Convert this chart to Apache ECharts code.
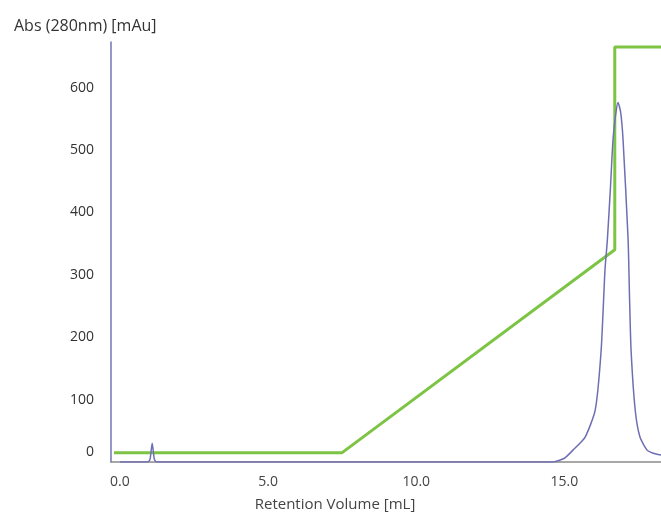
<!DOCTYPE html>
<html><head><meta charset="utf-8">
<script src="https://cdn.jsdelivr.net/npm/echarts@6/dist/echarts.min.js"></script>
<style>html,body{margin:0;padding:0;background:#fff}#c{width:661px;height:516px}</style>
</head><body><div id="c"></div>
<script>
// Absorbance trace (blue): [retention volume mL, mAu]
const absTrace = [
  [0.0, 0], [0.95, 0], [1.02, 5], [1.09, 30], [1.16, 5], [1.23, 0],
  [14.62, 0], [15.0, 6], [15.29, 19], [15.70, 40], [16.04, 83], [16.24, 179],
  [16.37, 308], [16.45, 356], [16.55, 436], [16.64, 516], [16.74, 560], [16.81, 576],
  [16.90, 560], [16.98, 516], [17.15, 356], [17.20, 260], [17.25, 179], [17.39, 83],
  [17.55, 40], [17.79, 19], [18.0, 14], [18.26, 11]
];
// Gradient trace (green)
const gradTrace = [
  [-0.2, 15], [7.50, 15], [16.70, 340], [16.70, 665], [18.26, 665]
];
const yTicks = [0, 100, 200, 300, 400, 500, 600];
const xTicks = [0, 5, 10, 15];

const chart = echarts.init(document.getElementById('c'));
const font = '"Open Sans", "Noto Sans", sans-serif';
chart.setOption({
  backgroundColor: '#fff',
  animation: false,
  grid: { left: 111, right: 0, top: 42, bottom: 54 },
  title: { text: 'Abs (280nm) [mAu]', left: 9, top: 13,
    textStyle: { fontFamily: font, fontSize: 16, fontWeight: 'normal', color: '#333' } },
  graphic: [{ type: 'text', x: 335, y: 505,
    style: { text: 'Retention Volume [mL]', textAlign: 'center', textVerticalAlign: 'middle',
      font: '15px ' + font, fill: '#444' } }],
  xAxis: {
    type: 'value', min: -0.3, max: 18.26,
    axisLine: { onZero: false, lineStyle: { color: '#8a8a8a', width: 1.5 } },
    axisTick: { show: false },
    splitLine: { show: false },
    axisLabel: { fontFamily: font, fontSize: 14, color: '#444', margin: 13,
      customValues: xTicks, formatter: v => Number(v).toFixed(1) }
  },
  yAxis: {
    type: 'value', min: 0, max: 673,
    axisLine: { show: true, onZero: false, lineStyle: { color: '#7474b4', width: 1.5 } },
    axisTick: { show: false },
    splitLine: { show: false },
    axisLabel: { fontFamily: font, fontSize: 14, color: '#333', margin: 17,
      customValues: yTicks,
      formatter: v => v === 0 ? '{z|0}' : String(v),
      rich: { z: { fontFamily: font, fontSize: 14, color: '#333', padding: [0, 0, 20, 0] } } }
  },
  series: [
    { type: 'line', data: gradTrace, showSymbol: false, symbol: 'none',
      lineStyle: { color: '#7dc444', width: 3 }, z: 2 },
    { type: 'line', data: absTrace, showSymbol: false, symbol: 'none', smooth: 0.2,
      lineStyle: { color: '#6e6eb4', width: 1.5 }, z: 3 }
  ]
});
</script></body></html>
